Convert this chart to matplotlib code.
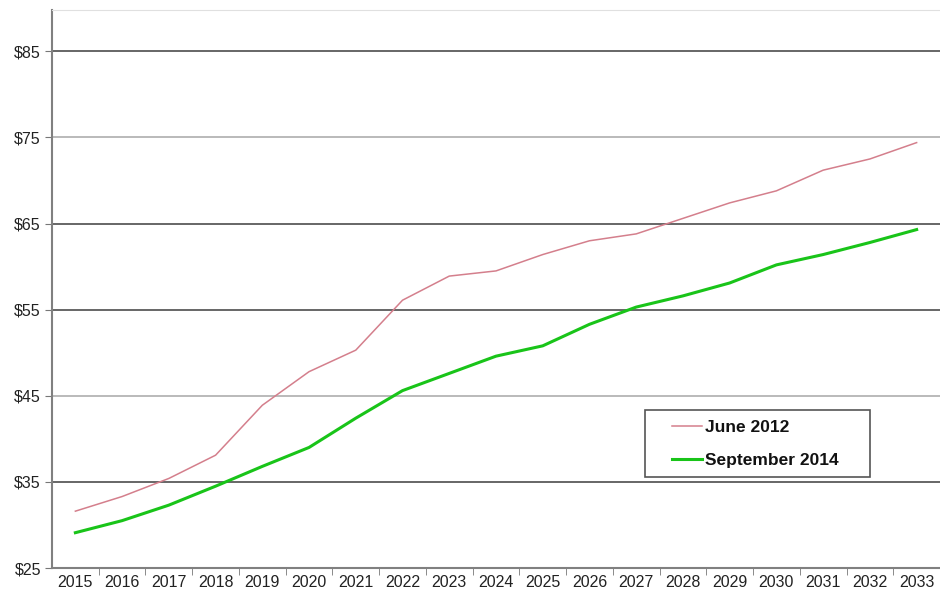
import numpy as np
import matplotlib.pyplot as plt
from matplotlib.patches import Rectangle

plt.rcParams['font.family'] = ['Liberation Sans', 'DejaVu Sans']

years = list(range(2015, 2034))
june_2012 = [31.6, 33.3, 35.4, 38.1, 43.9, 47.8, 50.3, 56.1, 58.9, 59.5,
             61.4, 63.0, 63.8, 65.6, 67.4, 68.8, 71.2, 72.5, 74.4]
sept_2014 = [29.1, 30.5, 32.3, 34.5, 36.8, 39.0, 42.4, 45.6, 47.6, 49.6,
             50.8, 53.3, 55.3, 56.6, 58.1, 60.2, 61.4, 62.8, 64.3]
y_ticks = [25, 35, 45, 55, 65, 75, 85]
grid_colors = {35: '#5a5a5a', 45: '#b4b4b4', 55: '#5a5a5a',
               65: '#5a5a5a', 75: '#b4b4b4', 85: '#5a5a5a'}

fig = plt.figure(figsize=(9.4, 5.97), dpi=100)
ax = fig.add_axes([52 / 940, 29 / 597, 888 / 940, 558 / 597])

for v, c in grid_colors.items():
    ax.axhline(v, color=c, lw=1.3, zorder=1)

ax.plot(years, june_2012, color='#d47f8c', lw=1.1, label='June 2012', zorder=3)
ax.plot(years, sept_2014, color='#19c419', lw=2.2, label='September 2014', zorder=3)

ax.set_xlim(2014.5, 2033.5)
ax.set_ylim(25, 89.8)
ax.set_yticks(y_ticks)
ax.set_yticklabels(['$%d' % v for v in y_ticks], fontsize=11.5, color='#222222')
ax.set_xticks(years)
ax.set_xticklabels([str(y) for y in years], fontsize=11.5, color='#222222')
ax.tick_params(axis='x', which='major', length=0, pad=5)
ax.set_xticks(np.arange(2015.5, 2033.5, 1), minor=True)
ax.tick_params(axis='x', which='minor', length=5, color='#777777', direction='out')
ax.tick_params(axis='y', length=5, color='#777777', direction='out', pad=3)

for s in ['left', 'bottom']:
    ax.spines[s].set_color('#808080')
    ax.spines[s].set_linewidth(1.5)
ax.spines['top'].set_color('#e0e0e0')
ax.spines['right'].set_visible(False)

# legend box drawn separately so it can be wider than the entries
ax.add_patch(Rectangle((0.668, 0.163), 0.253, 0.12, transform=ax.transAxes,
                       facecolor='white', edgecolor='#555555', lw=1.2, zorder=4))
leg = ax.legend(loc='center left', bbox_to_anchor=(0.698, 0.222), frameon=False,
                handlelength=1.75, handletextpad=0.15,
                borderpad=0, labelspacing=1.0, borderaxespad=0,
                prop={'weight': 'bold', 'size': 12.5})
leg.set_zorder(5)
for t in leg.get_texts():
    t.set_color('#111111')

fig.savefig('out.png', dpi=100)
plt.close(fig)
